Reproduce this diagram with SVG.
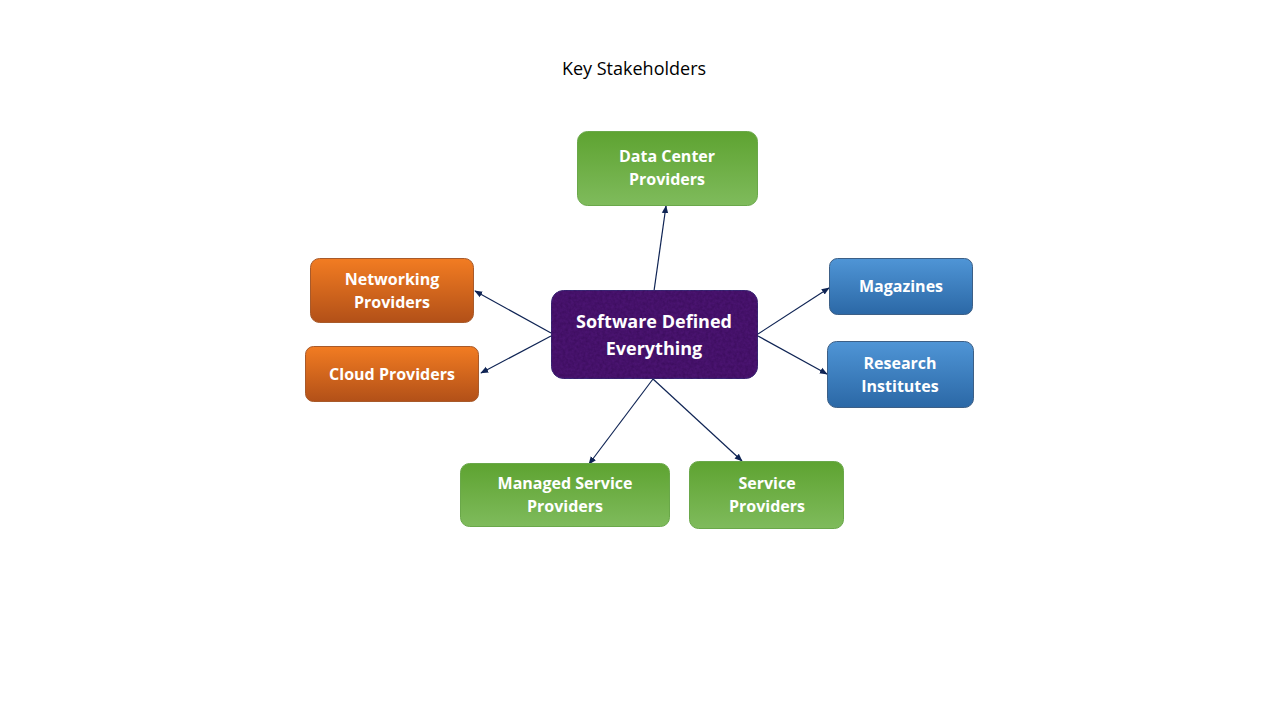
<svg xmlns="http://www.w3.org/2000/svg" width="1280" height="720" viewBox="0 0 1280 720">
<defs>
<linearGradient id="gGreen" x1="0" y1="0" x2="0" y2="1"><stop offset="0" stop-color="#5ea331"/><stop offset="1" stop-color="#7fbb5c"/></linearGradient>
<linearGradient id="gOrange" x1="0" y1="0" x2="0" y2="1"><stop offset="0" stop-color="#f27c22"/><stop offset="1" stop-color="#b25018"/></linearGradient>
<linearGradient id="gBlue" x1="0" y1="0" x2="0" y2="1"><stop offset="0" stop-color="#4f95d6"/><stop offset="1" stop-color="#2b68a6"/></linearGradient>
<filter id="tex" x="0" y="0" width="1" height="1" color-interpolation-filters="sRGB">
<feTurbulence type="fractalNoise" baseFrequency="0.35" numOctaves="2" seed="3" result="n"/>
<feColorMatrix in="n" type="matrix" values="0 0 0 0 0.2  0 0 0 0 0.03  0 0 0 0 0.32  0 0 0 0.9 -0.25" result="c"/>
<feComposite in="c" in2="SourceGraphic" operator="in" result="ci"/>
<feMerge><feMergeNode in="SourceGraphic"/><feMergeNode in="ci"/></feMerge>
</filter>
<marker id="arr" viewBox="0 0 10 10" refX="9" refY="5" markerWidth="8" markerHeight="8" orient="auto" markerUnits="userSpaceOnUse">
<path d="M0,1 L10,5 L0,9 Z" fill="#0f2454"/>
</marker>
</defs>
<style>
.lbl{font-family:"Open Sans","Liberation Sans",sans-serif;font-weight:bold;font-size:16px;fill:#ffffff;text-anchor:middle}
.big{font-size:18px}
.green{fill:url(#gGreen);stroke:#6aa84a;stroke-width:1}
.orange{fill:url(#gOrange);stroke:#a85a2a;stroke-width:1}
.blue{fill:url(#gBlue);stroke:#3c5f86;stroke-width:1}
.conn{stroke:#0f2454;stroke-width:1.2;fill:none;marker-end:url(#arr)}
</style>
<rect width="1280" height="720" fill="#ffffff"/>
<text x="634" y="75" font-family="'Open Sans','Liberation Sans',sans-serif" font-size="18" fill="#000" text-anchor="middle">Key Stakeholders</text>
<g id="connectors">
<line class="conn" x1="654" y1="291" x2="666" y2="206"/>
<line class="conn" x1="551" y1="333" x2="475" y2="291"/>
<line class="conn" x1="551" y1="336" x2="481" y2="373"/>
<line class="conn" x1="758" y1="334" x2="829" y2="288"/>
<line class="conn" x1="758" y1="336" x2="827" y2="374"/>
<line class="conn" x1="653" y1="379" x2="589" y2="464"/>
<line class="conn" x1="653" y1="379" x2="742" y2="461"/>
</g>
<g id="center">
<rect x="551.5" y="290.5" width="206" height="88" rx="12" fill="#4a1470" stroke="#3a2a7a" stroke-width="1" filter="url(#tex)"/>
<text class="lbl big" x="654" y="328">Software Defined</text>
<text class="lbl big" x="654" y="355">Everything</text>
</g>
<g id="datacenter">
<rect class="green" x="577.5" y="131.5" width="180" height="74" rx="10"/>
<text class="lbl" x="667" y="162">Data Center</text>
<text class="lbl" x="667" y="185">Providers</text>
</g>
<g id="networking">
<rect class="orange" x="310.5" y="258.5" width="163" height="64" rx="9"/>
<text class="lbl" x="392" y="285">Networking</text>
<text class="lbl" x="392" y="308">Providers</text>
</g>
<g id="cloud">
<rect class="orange" x="305.5" y="346.5" width="173" height="55" rx="8"/>
<text class="lbl" x="392" y="380">Cloud Providers</text>
</g>
<g id="magazines">
<rect class="blue" x="829.5" y="258.5" width="143" height="56" rx="8"/>
<text class="lbl" x="901" y="292">Magazines</text>
</g>
<g id="research">
<rect class="blue" x="827.5" y="341.5" width="146" height="66" rx="9"/>
<text class="lbl" x="900" y="369">Research</text>
<text class="lbl" x="900" y="392">Institutes</text>
</g>
<g id="managed">
<rect class="green" x="460.5" y="463.5" width="209" height="63" rx="9"/>
<text class="lbl" x="565" y="489">Managed Service</text>
<text class="lbl" x="565" y="512">Providers</text>
</g>
<g id="service">
<rect class="green" x="689.5" y="461.5" width="154" height="67" rx="9"/>
<text class="lbl" x="767" y="489">Service</text>
<text class="lbl" x="767" y="512">Providers</text>
</g>
</svg>
